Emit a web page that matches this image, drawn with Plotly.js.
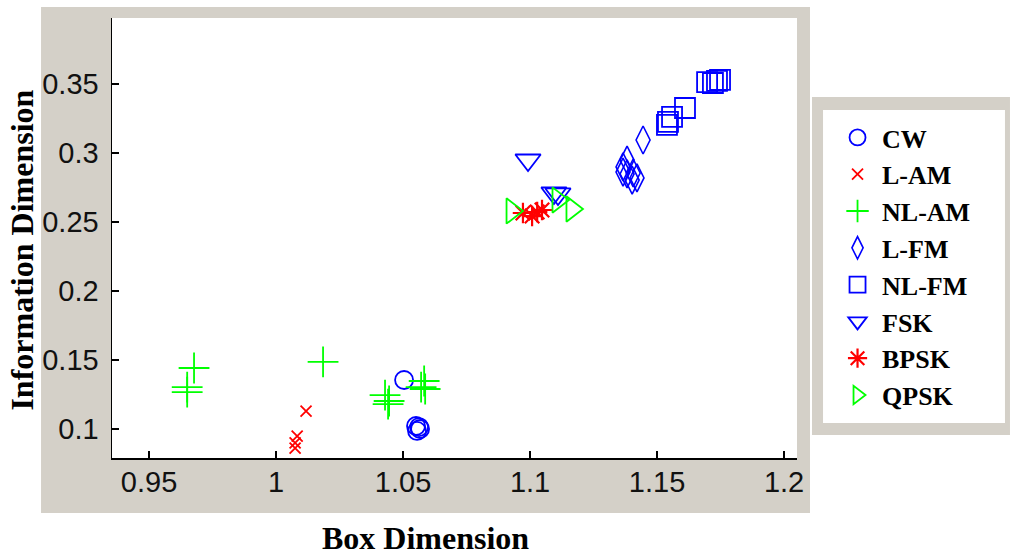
<!DOCTYPE html>
<html>
<head>
<meta charset="utf-8">
<script src="https://cdn.plot.ly/plotly-3.0.1.min.js"></script>
<style>
  html, body { margin: 0; padding: 0; background: #ffffff; }
  #chart { width: 1010px; height: 555px; }
</style>
</head>
<body>
<div id="chart"></div>
<script>
// Box dimension (x) and information dimension (y) per modulation type
const seriesNames = ['CW', 'L-AM', 'NL-AM', 'L-FM', 'NL-FM', 'FSK', 'BPSK', 'QPSK'];

const cwX = [1.0504, 1.0551, 1.0567, 1.0555, 1.0563];
const cwY = [0.1355, 0.1022, 0.1000, 0.0986, 0.1014];

const lamX = [1.0118, 1.0083, 1.0075, 1.0075];
const lamY = [0.1130, 0.0949, 0.0899, 0.0862];

const nlamX = [0.9677, 0.9650, 0.9650, 1.0185, 1.0429, 1.0445, 1.0441, 1.0583, 1.0571, 1.0587];
const nlamY = [0.1442, 0.1304, 0.1268, 0.1486, 0.1246, 0.1203, 0.1181, 0.1348, 0.1304, 0.1290];

const lfmX = [1.1445, 1.1382, 1.1366, 1.1366, 1.1382, 1.1406, 1.1402, 1.1421];
const lfmY = [0.3094, 0.2949, 0.2899, 0.2862, 0.2848, 0.2855, 0.2804, 0.2819];

const nlfmX = [1.1610, 1.1559, 1.1543, 1.1539, 1.1697, 1.1720, 1.1736, 1.1748];
const nlfmY = [0.3326, 0.3261, 0.3225, 0.3203, 0.3514, 0.3507, 0.3522, 0.3529];

const fskX = [1.0992, 1.1094, 1.1110];
const fskY = [0.2949, 0.2710, 0.2703];

const bpskX = [1.0972, 1.1008, 1.1028, 1.1047];
const bpskY = [0.2565, 0.2543, 0.2572, 0.2587];

const qpskX = [1.0929, 1.1110, 1.1165];
const qpskY = [0.2580, 0.2659, 0.2594];

const xTickVals = [0.95, 1, 1.05, 1.1, 1.15, 1.2];
const xTickText = ['0.95', '1', '1.05', '1.1', '1.15', '1.2'];
const yTickVals = [0.1, 0.15, 0.2, 0.25, 0.3, 0.35];
const yTickText = ['0.1', '0.15', '0.2', '0.25', '0.3', '0.35'];

const BLUE = '#0000ff', RED = '#ff0000', GREEN = '#00ff00';
const FIG_GRAY = '#d4d0c8';

function series(name, xs, ys, symbol, color, size, lw) {
  return {
    type: 'scatter', mode: 'markers', name: name, x: xs, y: ys,
    legendgroup: name,
    marker: { symbol: symbol, size: size, color: color, line: { color: color, width: lw } },
    hoverinfo: 'x+y+name'
  };
}

const data = [
  series(seriesNames[0], cwX, cwY, 'circle-open', BLUE, 18, 1.8),
  series(seriesNames[1], lamX, lamY, 'x-thin-open', RED, 11, 1.8),
  series(seriesNames[2], nlamX, nlamY, 'cross-thin-open', GREEN, 22, 1.8),
  series(seriesNames[3], lfmX, lfmY, 'diamond-tall-open', BLUE, 20, 1.6),
  series(seriesNames[4], nlfmX, nlfmY, 'square-open', BLUE, 20, 1.8),
  series(seriesNames[5], fskX, fskY, 'triangle-down-open', BLUE, 22, 1.8),
  series(seriesNames[6], bpskX, bpskY, 'asterisk-open', RED, 17, 2.2),
  series(seriesNames[7], qpskX, qpskY, 'triangle-right-open', GREEN, 22, 1.8)
];

const tickFont = { family: 'Liberation Sans, Arial, sans-serif', size: 29, color: '#111111' };
const titleFont = { family: 'Liberation Serif, Times New Roman, serif', size: 32, color: '#000000', weight: 'bold' };

const axisCommon = {
  ticks: 'inside', ticklen: 7, tickwidth: 1.5, tickcolor: '#000000',
  showline: true, linecolor: '#000000', linewidth: 1.5,
  showgrid: false, zeroline: false, mirror: false,
  tickfont: tickFont, fixedrange: true
};

const layout = {
  width: 1010, height: 555,
  margin: { l: 112, r: 213, t: 18, b: 97 },
  paper_bgcolor: '#ffffff', plot_bgcolor: '#ffffff',
  xaxis: Object.assign({}, axisCommon, {
    range: [0.9354, 1.2051], tickmode: 'array', tickvals: xTickVals, ticktext: xTickText,
    ticklabelstandoff: -2
  }),
  yaxis: Object.assign({}, axisCommon, {
    range: [0.079, 0.3978], tickmode: 'array', tickvals: yTickVals, ticktext: yTickText,
    ticklabelstandoff: 6
  }),
  shapes: [
    // figure frame
    { type: 'rect', xref: 'paper', yref: 'paper', x0: -0.1036, x1: 1.019, y0: -0.125, y1: 1.025,
      fillcolor: FIG_GRAY, line: { width: 0 }, layer: 'below' },
    // axes area
    { type: 'rect', xref: 'paper', yref: 'paper', x0: 0, x1: 1, y0: 0, y1: 1,
      fillcolor: '#ffffff', line: { width: 0 }, layer: 'below' },
    // legend frame
    { type: 'rect', xref: 'paper', yref: 'paper', x0: 1.0219, x1: 1.3109, y0: 0.0523, y1: 0.8205,
      fillcolor: FIG_GRAY, line: { width: 0 }, layer: 'below' },
    { type: 'rect', xref: 'paper', yref: 'paper', x0: 1.038, x1: 1.3036, y0: 0.0795, y1: 0.7909,
      fillcolor: '#ffffff', line: { width: 0 }, layer: 'below' }
  ],
  annotations: [
    { text: 'Box Dimension', xref: 'paper', yref: 'paper', x: 0.457, y: -0.1818,
      xanchor: 'center', yanchor: 'middle', showarrow: false, font: titleFont },
    { text: 'Information Dimension', xref: 'paper', yref: 'paper', x: -0.131, y: 0.472,
      xanchor: 'center', yanchor: 'middle', textangle: -90, showarrow: false, font: titleFont }
  ],
  legend: {
    x: 1.0526, y: 0.7818, xanchor: 'left', yanchor: 'top',
    bgcolor: 'rgba(0,0,0,0)', borderwidth: 0, tracegroupgap: 0, itemwidth: 39,
    font: { family: 'Liberation Serif, Times New Roman, serif', size: 26, color: '#000000', weight: 'bold' }
  },
  showlegend: true
};

Plotly.newPlot('chart', data, layout, { displayModeBar: false, staticPlot: true });
</script>
</body>
</html>
